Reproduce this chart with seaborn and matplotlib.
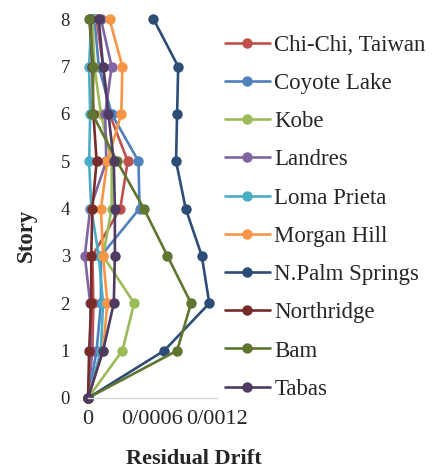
import numpy as np
import pandas as pd
import matplotlib
matplotlib.use("Agg")
import matplotlib.pyplot as plt
import seaborn as sns

# 데이터: 층별 잔류 변위
stories = [0, 1, 2, 3, 4, 5, 6, 7, 8]
quakes = ['Chi-Chi, Taiwan', 'Coyote Lake', 'Kobe', 'Landres', 'Loma Prieta',
          'Morgan Hill', 'N.Palm Springs', 'Northridge', 'Bam', 'Tabas']
chichi = [0, 0.00004, 0.00005, 0.00004, 0.00030, 0.00037, 0.00020, 0.00014, 0.00008]
coyote = [0, 0.00008, 0.00012, 0.00012, 0.00048, 0.00047, 0.00022, 0.00010, 0.00006]
kobe = [0, 0.00032, 0.00043, 0.00014, 0.00022, 0.00022, 0.00012, 0.00006, 0.00004]
landres = [0, 0.00003, 0.00002, -0.00003, 0.00002, 0.00017, 0.00016, 0.00022, 0.00012]
loma = [0, 0.00012, 0.00014, 0.00010, 0.00003, 0.00001, 0.00002, 0.00001, 0.00003]
morgan = [0, 0.00014, 0.00018, 0.00014, 0.00012, 0.00018, 0.00031, 0.00032, 0.00020]
npalm = [0, 0.00071, 0.00113, 0.00106, 0.00091, 0.00082, 0.00083, 0.00084, 0.00061]
northridge = [0, 0.00001, 0.00003, 0.00003, 0.00004, 0.00008, 0.00005, 0.00004, 0.00002]
bam = [0, 0.00083, 0.00096, 0.00074, 0.00052, 0.00027, 0.00004, 0.00005, 0.00001]
tabas = [0, 0.00014, 0.00024, 0.00025, 0.00025, 0.00024, 0.00019, 0.00014, 0.00010]
xtick_vals = [0, 0.0006, 0.0012]
xtick_labels = ['0', '0/0006', '0/0012']

colors = ['#C0504D', '#4F81BD', '#9BBB59', '#8064A2', '#4BACC6',
          '#F79646', '#2C4D75', '#772C2A', '#5F7530', '#4D3B62']

series = [chichi, coyote, kobe, landres, loma, morgan, npalm, northridge, bam, tabas]
df = pd.concat([pd.DataFrame({'quake': q, 'story': stories, 'drift': v})
                for q, v in zip(quakes, series)], ignore_index=True)

sns.set_style('white')
plt.rcParams['font.family'] = ['Liberation Serif', 'DejaVu Serif']

fig = plt.figure(figsize=(4.38, 4.68), dpi=100)
ax = fig.add_axes([0.201, 0.1496, 0.294, 0.8094])

sns.lineplot(data=df, x='drift', y='story', hue='quake', hue_order=quakes,
             palette=colors, sort=False, estimator=None, marker='o',
             markersize=7.5, markeredgewidth=0, linewidth=1.9, ax=ax,
             clip_on=False)

ax.set_xlim(0, 0.0012)
ax.set_ylim(0, 8)
ax.set_yticks(stories)
ax.set_xticks(xtick_vals)
ax.set_xticklabels(xtick_labels)
ax.tick_params(axis='y', labelsize=13.5, length=0, pad=13)
ax.tick_params(axis='x', labelsize=16, length=0, pad=9)
for s in ['left', 'top', 'right']:
    ax.spines[s].set_visible(False)
ax.spines['bottom'].set_color('#D9D9D9')
ax.spines['bottom'].set_linewidth(1)

ax.set_xlabel('Residual Drift', fontsize=16, fontweight='bold')
ax.xaxis.set_label_coords(0.82, -0.135)
ax.set_ylabel('Story', fontsize=16.5, fontweight='bold')
ax.yaxis.set_label_coords(-0.40, 0.43)

handles, labels = ax.get_legend_handles_labels()
ax.legend(handles, labels, loc='upper left', bbox_to_anchor=(225 / 438, 0.926),
          bbox_transform=fig.transFigure, frameon=False, fontsize=16.5,
          handlelength=1.95, handletextpad=0.2, labelspacing=0.75,
          borderaxespad=0, borderpad=0)

fig.savefig('out.png', dpi=100)
